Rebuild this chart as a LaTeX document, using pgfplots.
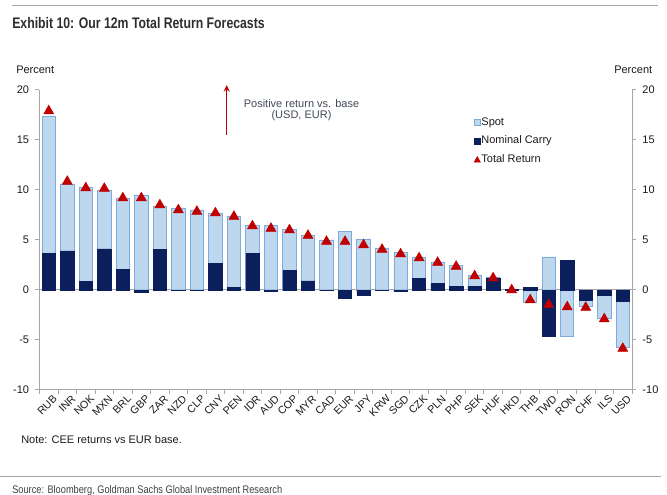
\documentclass[border=0pt]{standalone}
\usepackage{pgfplots}
\pgfplotsset{compat=1.18}
\usepackage{pgfplotstable}
\usetikzlibrary{arrows.meta}
\usepackage{fontspec}
\setmainfont{Liberation Sans}
\newfontfamily\narrowfont[FakeStretch=0.80]{Liberation Sans}
\newfontfamily\sourcefont[FakeStretch=0.84]{Liberation Sans}
\definecolor{lightb}{HTML}{BDD7EE}
\definecolor{lightbd}{HTML}{7FAADC}
\definecolor{navyb}{HTML}{0B1F5C}
\definecolor{tri}{HTML}{C00000}
\definecolor{axgray}{HTML}{A6A6A6}
\definecolor{txt}{HTML}{1A1A1A}
\definecolor{anno}{HTML}{404858}

% x: category index; light: end of light (Spot) bar from 0; carry: Nominal Carry; total: Total Return
\pgfplotstableread{
x light carry total
0 17.4 3.67 17.9
1 10.6 3.90 10.85
2 10.3 0.83 10.2
3 10.0 4.10 10.15
4 9.2 2.07 9.2
5 9.5 -0.23 9.2
6 8.4 4.07 8.5
7 8.2 -0.05 8.0
8 8.0 -0.05 7.85
9 7.7 2.67 7.7
10 7.4 0.23 7.35
11 6.45 3.67 6.4
12 6.45 -0.15 6.15
13 6.05 1.93 6.0
14 5.45 0.90 5.45
15 5.0 -0.05 4.85
16 5.85 -0.83 4.85
17 5.1 -0.50 4.5
18 4.2 -0.03 4.05
19 3.8 -0.12 3.6
20 3.3 1.17 3.2
21 2.8 0.67 2.75
22 2.45 0.33 2.35
23 1.5 0.33 1.4
24 1.3 1.20 1.2
25 0.08 0.03 0.0
26 -1.25 0.25 -1.0
27 3.3 -4.60 -1.45
28 -4.65 2.95 -1.7
29 -1.6 -1.05 -1.75
30 -2.85 -0.55 -2.9
31 -5.75 -1.15 -5.85
}\data

\begin{document}
\begin{tikzpicture}
\path[use as bounding box] (0,0) rectangle (500.25pt,371.25pt);
\begin{scope}[shift={(0,371.25pt)}, x=0.75pt, y=-0.75pt]
  \draw[axgray, line width=0.75pt] (12,6) -- (658,6);
  \draw[axgray, line width=0.75pt] (0,477) -- (661,477);
  \node[anchor=base west, inner sep=0, text=black!82] at (12,28.5)
    {\narrowfont\bfseries\fontsize{11.5}{13}\selectfont Exhibit 10: Our 12m Total Return Forecasts};
  \node[anchor=base west, inner sep=0, text=txt] at (16,74)
    {\fontsize{8.25}{9}\selectfont Percent};
  \node[anchor=base west, inner sep=0, text=txt] at (614,74)
    {\fontsize{8.25}{9}\selectfont Percent};
  \node[anchor=base west, inner sep=0, text=txt] at (21,443.3)
    {\fontsize{8.25}{9}\selectfont Note: CEE returns vs EUR base.};
  \node[anchor=base west, inner sep=0, text=black!75] at (12,493.3)
    {\sourcefont\fontsize{8.25}{9}\selectfont Source: Bloomberg, Goldman Sachs Global Investment Research};
  \draw[tri, line width=1pt, -{Stealth[length=5pt,width=4.5pt]}] (226.7,135) -- (226.7,85);
  \node[anchor=base, inner sep=0, text=anno] at (301.5,107.2)
    {\fontsize{8.25}{9}\selectfont Positive return vs. base};
  \node[anchor=base, inner sep=0, text=anno] at (301.5,119)
    {\fontsize{8.25}{9}\selectfont (USD, EUR)};
\end{scope}

\begin{axis}[
  at={(29.625pt,78.75pt)}, anchor=south west,
  scale only axis, width=444.4pt, height=225pt,
  xmin=-0.5, xmax=31.5, ymin=-10, ymax=20,
  axis x line*=bottom, axis y line*=left,
  axis line style={draw=axgray, line width=0.75pt},
  tick align=outside, major tick length=3pt, minor tick length=3pt,
  tick style={draw=axgray, line width=0.75pt},
  major x tick style={draw=none},
  xtick={0,...,31},
  minor xtick={-0.5,0.5,...,31.5},
  xticklabels={RUB,INR,NOK,MXN,BRL,GBP,ZAR,NZD,CLP,CNY,PEN,IDR,AUD,COP,MYR,CAD,EUR,JPY,KRW,SGD,CZK,PLN,PHP,SEK,HUF,HKD,THB,TWD,RON,CHF,ILS,USD},
  xticklabel style={rotate=45, anchor=north east, inner sep=1pt, font=\fontsize{8}{9}\selectfont, text=txt, xshift=3pt, yshift=-1pt},
  ytick={-10,-5,...,20},
  yticklabel style={font=\fontsize{8.25}{9}\selectfont, text=txt, xshift=-1.3pt},
  /pgf/number format/assume math mode=true,
  legend style={at={(0.726,0.921)}, anchor=north west, draw=none, fill=none,
    font=\fontsize{8.25}{9}\selectfont, text=txt, row sep=5.4pt,
    nodes={inner sep=0.6pt}},
  legend cell align=left,
  clip=false,
]
\draw[axgray, line width=0.75pt] (axis cs:-0.5,0) -- (axis cs:31.5,0);
\addplot[ybar, bar width=10pt, bar shift=0pt, fill=lightb, draw=lightbd, line width=0.6pt,
  legend image code/.code={\draw[fill=lightb, draw=lightbd, line width=0.4pt] (0pt,-2.3pt) rectangle (4.6pt,2.3pt);}]
  table[x=x, y=light] {\data};
\addlegendentry{Spot}
\addplot[ybar, bar width=10pt, bar shift=0pt, fill=navyb, draw=navyb, line width=0.4pt,
  legend image code/.code={\draw[fill=navyb, draw=navyb, line width=0.4pt] (0pt,-2.3pt) rectangle (4.6pt,2.3pt);}]
  table[x=x, y=carry] {\data};
\addlegendentry{Nominal Carry}
\addplot[only marks, mark=triangle*, mark size=4.3pt, color=tri, mark options={fill=tri, draw=tri},
  legend image code/.code={\fill[tri] (0pt,-1.8pt) -- (4.6pt,-1.8pt) -- (2.3pt,2.3pt) -- cycle;}]
  table[x=x, y=total] {\data};
\addlegendentry{Total Return}
\end{axis}

\begin{axis}[
  at={(29.625pt,78.75pt)}, anchor=south west,
  scale only axis, width=444.4pt, height=225pt,
  xmin=-0.5, xmax=31.5, ymin=-10, ymax=20,
  axis x line=none, axis y line*=right,
  axis line style={draw=axgray, line width=0.75pt},
  tick align=outside, major tick length=3pt,
  tick style={draw=axgray, line width=0.75pt},
  ytick={-10,-5,...,20},
  yticklabel style={font=\fontsize{8.25}{9}\selectfont, text=txt, xshift=1.3pt},
  /pgf/number format/assume math mode=true,
]
\addplot[draw=none] coordinates {(0,0)};
\end{axis}
\end{tikzpicture}
\end{document}
